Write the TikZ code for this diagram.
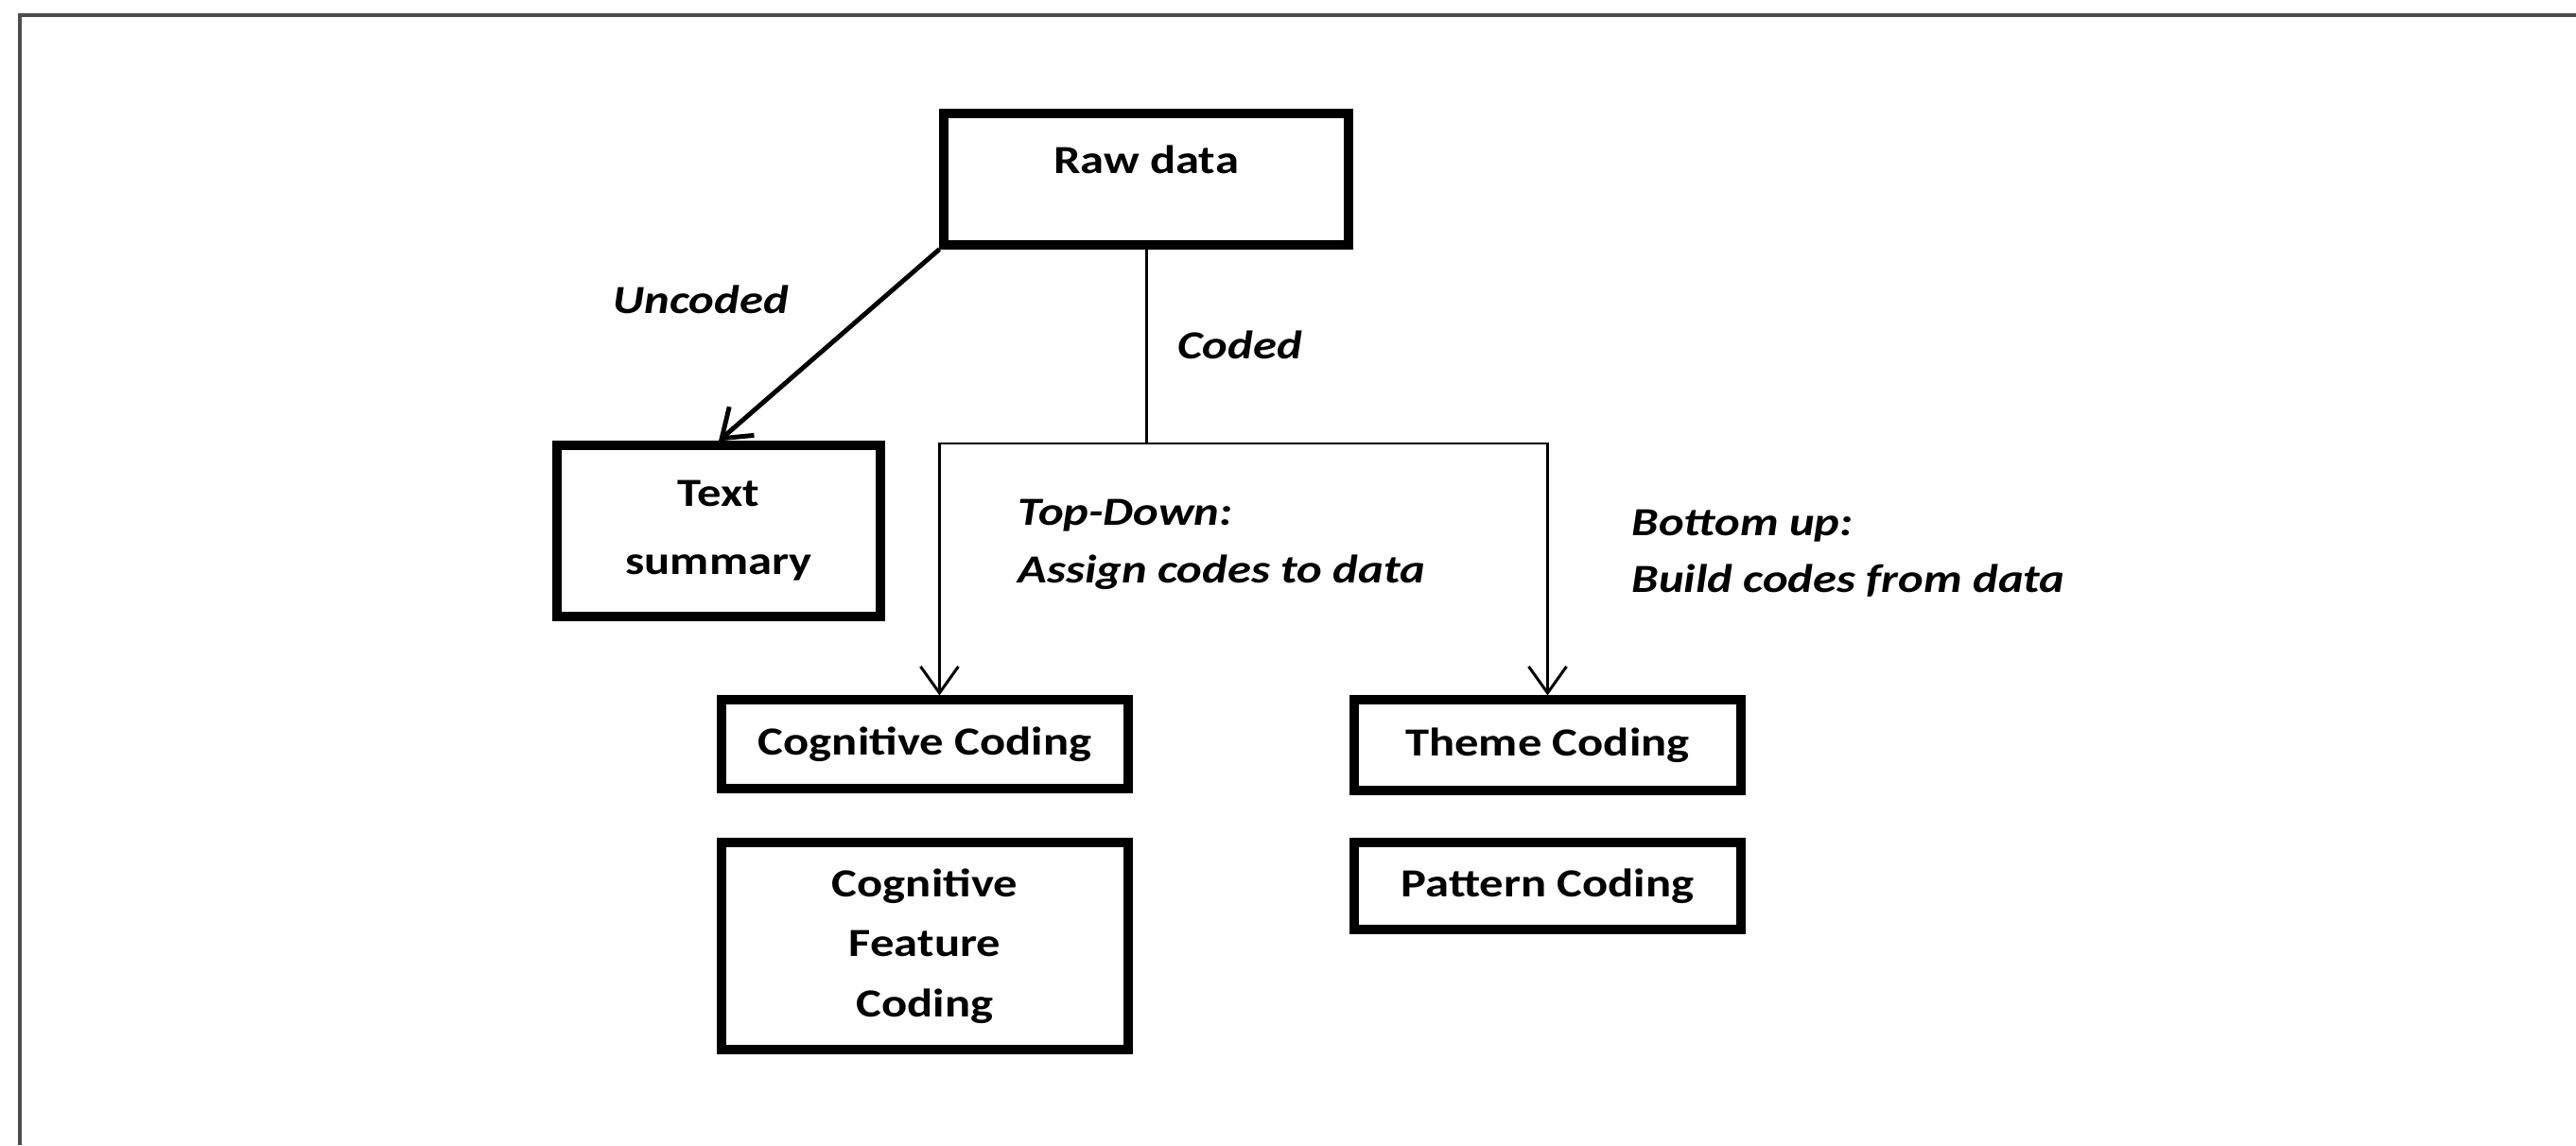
\documentclass[tikz,border=0pt]{standalone}
\usepackage{fontspec}
\setmainfont{Carlito}[FakeStretch=1.2]
\usetikzlibrary{positioning, calc, arrows.meta}

\begin{document}
\begin{tikzpicture}[
	box/.style={draw, line width=2.6pt, inner sep=0pt, align=center, font=\fontsize{12}{18}\selectfont\bfseries},
	lbl/.style={align=left, anchor=west, inner sep=0pt, font=\fontsize{12}{17.2}\selectfont\bfseries\itshape},
	link/.style={line width=0.85pt, -{Straight Barb[length=0.28cm, width=0.4cm]}}
	]
	\useasboundingbox (0,0) rectangle (27.24,12.11);
	% page frame, only top and left edge visible
	\draw[black!70, line width=0.035cm] (0.21,0) -- (0.21,11.95) -- (27.24,11.95);

	\node (raw) at (12.12,10.215) [box, minimum width=4.28cm, text height=0.63cm, text depth=0.76cm] {Raw data};
	\node (summary) at (7.60,6.495) [box, minimum width=3.42cm, minimum height=1.81cm, font=\fontsize{12}{20.5}\selectfont\bfseries] {Text\\summary};
	\node (cog) at (9.78,4.24) [box, minimum width=4.30cm, minimum height=0.94cm] {Cognitive Coding};
	\node (theme) at (16.365,4.23) [box, minimum width=4.09cm, minimum height=0.96cm] {Theme Coding};
	\node (cogfeat) at (9.78,2.105) [box, minimum width=4.30cm, minimum height=2.19cm] {Cognitive\\Feature\\Coding};
	\node (pattern) at (16.365,2.74) [box, minimum width=4.09cm, minimum height=0.92cm] {Pattern Coding};

	\node (uncoded) at (6.48,8.94) [lbl] {Uncoded};
	\node (coded) at (12.45,8.46) [lbl] {Coded};
	\node (topdown) at (10.76,6.35) [lbl] {Top-Down:\\Assign codes to data};
	\node (bottomup) at (17.25,6.255) [lbl] {Bottom up:\\Build codes from data};

	\coordinate (bus) at (12.12,7.42);

	\draw[link, line width=1.4pt] (raw.south west) -- (summary.north);
	\draw[line width=0.85pt] (raw.south) -- (bus);
	\draw[link] (bus) -| (cog.north -| raw.west);
	\draw[link] (bus) -| (theme.north);
\end{tikzpicture}
\end{document}
